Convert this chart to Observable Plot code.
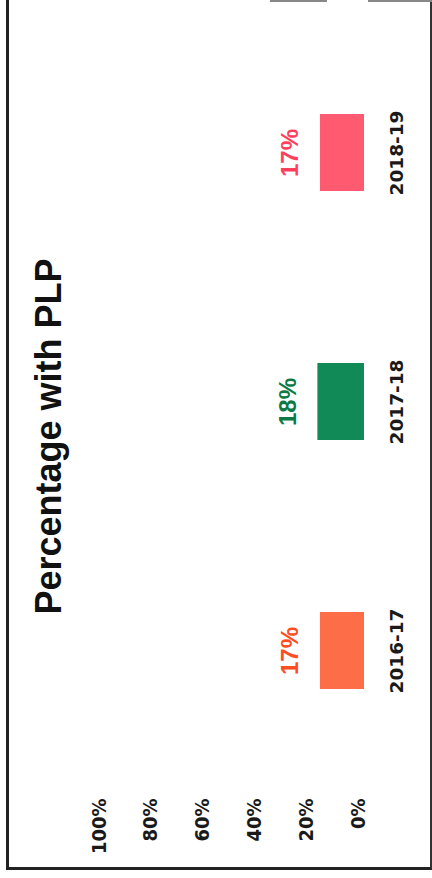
<!DOCTYPE html>
<html>
<head>
<meta charset="utf-8">
<script src="https://cdn.jsdelivr.net/npm/d3@7"></script>
<script src="https://cdn.jsdelivr.net/npm/@observablehq/plot@0.6"></script>
<style>
  html, body { margin: 0; padding: 0; background: #fff; }
  #wrap { position: relative; width: 432px; height: 878px; overflow: hidden; }
  #frame { position: absolute; left: 6px; top: 0; width: 421px; height: 867px;
           border-left: 3px solid #222; border-bottom: 3px solid #222; border-right: 2px solid #333; }
  .topline { position: absolute; top: 0; height: 2px; background: #888; }
  #chart { position: absolute; left: 0; top: 0; }
</style>
</head>
<body>
<div id="wrap">
  <div id="frame"></div>
  <div class="topline" style="left:270px;width:57px;"></div>
  <div class="topline" style="left:368px;width:64px;"></div>
  <div id="chart"></div>
</div>
<script>
const categories = ["2016-17", "2017-18", "2018-19"];
const values = [0.17, 0.18, 0.17];
const ticks = [0, 0.2, 0.4, 0.6, 0.8, 1];
const title = "Percentage with PLP";
const barColors = ["#fd6e48", "#128a58", "#ff5a70"];
const labelColors = ["#ff4d22", "#0d7a46", "#ff3f5c"];

const data = categories.map((c, i) => ({cat: c, value: values[i], i}));

const chart = Plot.plot({
  width: 432,
  height: 878,
  marginTop: 28,
  marginBottom: 88,
  marginLeft: 105,
  marginRight: 68,
  style: {background: "transparent"},
  x: {domain: [0, 1], reverse: true, axis: null},
  y: {domain: ["2018-19", "2017-18", "2016-17"], range: [28.5, 775.5], paddingInner: 0.69, paddingOuter: 0.345, axis: null},
  marks: [
    Plot.barX(data, {x: "value", y: "cat", fill: d => barColors[d.i]}),
    Plot.text(data, {x: "value", y: "cat", text: d => Math.round(d.value * 100) + "%",
      fill: d => labelColors[d.i], rotate: -90, dx: -30, fontSize: 24, fontWeight: "bold",
      fontFamily: "Liberation Sans, Arial, sans-serif", textAnchor: "middle"}),
    Plot.text(categories, {y: d => d, x: 0, dx: 33, rotate: -90, text: d => d, fontSize: 18.5,
      fontWeight: "bold", fill: "#1a1a1a", fontFamily: "DejaVu Sans, Verdana, sans-serif", textAnchor: "middle"}),
    Plot.text(ticks, {x: d => d, frameAnchor: "bottom", dy: 8, rotate: -90, textAnchor: "end",
      text: d => Math.round(d * 100) + "%", fontSize: 20, fontWeight: "bold", fill: "#1a1a1a",
      fontFamily: "Liberation Sans Narrow, Arial Narrow, DejaVu Sans Condensed, sans-serif"}),
    Plot.text([title], {frameAnchor: "left", dx: -56, dy: 27, rotate: -90, text: d => d,
      fontSize: 36, fontWeight: "bold", fill: "#111", fontFamily: "Liberation Sans, Arial, sans-serif", textAnchor: "middle"})
  ]
});
document.getElementById("chart").appendChild(chart);
</script>
</body>
</html>
